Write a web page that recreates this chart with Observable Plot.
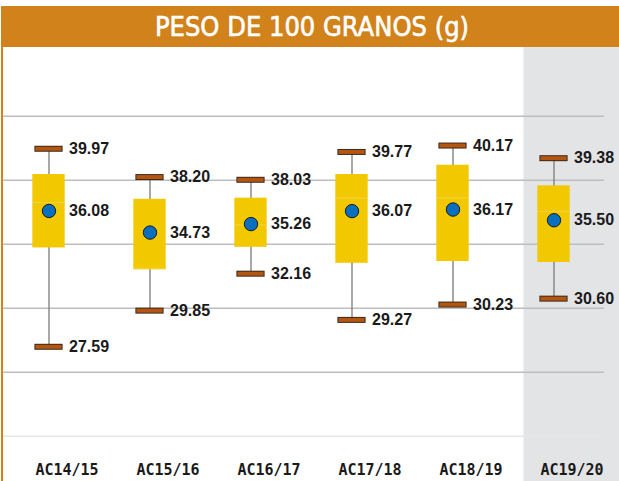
<!DOCTYPE html>
<html>
<head>
<meta charset="utf-8">
<script src="https://cdn.jsdelivr.net/npm/d3@7"></script>
<script src="https://cdn.jsdelivr.net/npm/@observablehq/plot@0.6"></script>
<style>
  body { margin: 0; background: #fff; }
  #wrap { position: relative; width: 619px; height: 481px; overflow: hidden; background: #fff; }
  #hdr { position: absolute; left: 1px; top: 6px; width: 618px; height: 41px; background: #d1821a;
         color: #fff; text-align: center; font-family: "DejaVu Sans Condensed", "DejaVu Sans"; font-stretch: condensed;
         font-weight: normal; font-size: 27px; line-height: 41px; white-space: nowrap; padding-left: 4px; box-sizing: border-box;
         -webkit-text-stroke: 0.6px #fff; }
  #chart { position: absolute; left: 0; top: 47px; }
  #lline { position: absolute; left: 1px; top: 47px; width: 2px; height: 434px; background: #d1821a; }
  #chart g[aria-label="x-axis tick label"] { font-weight: bold; }
</style>
</head>
<body>
<div id="wrap">
  <div id="hdr">PESO DE 100 GRANOS (g)</div>
  <div id="chart"></div>
  <div id="lline"></div>
</div>
<script>
const categories = ["AC14/15", "AC15/16", "AC16/17", "AC17/18", "AC18/19", "AC19/20"];
const maxVals    = [39.97, 38.20, 38.03, 39.77, 40.17, 39.38];
const minVals    = [27.59, 29.85, 32.16, 29.27, 30.23, 30.60];
const meanVals   = [36.08, 34.73, 35.26, 36.07, 36.17, 35.50];
const q3Vals     = [38.36, 36.81, 36.88, 38.36, 38.94, 37.65];
const q1Vals     = [33.77, 32.40, 33.81, 32.81, 32.92, 32.86];
const medVals    = [36.61, 32.50, 35.21, 36.88, 36.88, 36.06];
const gridTicks  = [26, 30, 34, 38, 42];
const yMin = 22, yMax = 46.3;
const highlight = ["AC19/20"];

const rows = categories.map((c, i) => ({
  cat: c, max: maxVals[i], min: minVals[i], mean: meanVals[i],
  q3: q3Vals[i], q1: q1Vals[i], med: medVals[i]
}));
const fmt = d3.format(".2f");
const labelFont = {fontSize: 16, fontWeight: "bold", fontFamily: "Liberation Sans, Arial, sans-serif",
                   fill: "#1a1a1a", textAnchor: "start", dx: 2};

const chart = Plot.plot({
  width: 619, height: 434,
  marginLeft: 3, marginRight: 15, marginTop: 0, marginBottom: 45.3,
  style: {background: "transparent", overflow: "visible"},
  x: {type: "band", domain: categories, range: [13.05, 624.45], padding: 0, axis: null},
  y: {domain: [yMin, yMax], range: [388.7, 0], axis: null},
  marks: [
    Plot.barY(highlight, {x: d => d, y1: yMin, y2: yMax, fill: "#e3e4e6", insetLeft: 2.5, insetBottom: -46}),
    Plot.ruleY(gridTicks, {stroke: "#bdbdbd", strokeWidth: 1.5}),
    Plot.ruleY([yMin], {stroke: "#e6e6e6", strokeWidth: 1.5}),
    Plot.axisX({tickSize: 0, tickPadding: 28, fontSize: 15, fontWeight: "bold", label: null,
                fontFamily: "DejaVu Sans Mono, monospace", color: "#1a1a1a"}),
    Plot.ruleX(rows, {x: "cat", y1: "min", y2: "max", stroke: "#7a7a7a", strokeWidth: 1.3, dx: -18}),
    Plot.barY(rows, {x: "cat", y1: "q1", y2: "q3", fill: "#f2c900", insetLeft: 16.3, insetRight: 52.3}),
    Plot.tickY(rows, {x: "cat", y: "med", stroke: "#f5d650", strokeWidth: 0.8, insetLeft: 16.3, insetRight: 52.3}),
    Plot.tickY(rows, {x: "cat", y: "max", stroke: "#3a2a1c", strokeWidth: 6, insetLeft: 18.4, insetRight: 54.4}),
    Plot.tickY(rows, {x: "cat", y: "max", stroke: "#b4560f", strokeWidth: 4, insetLeft: 19.4, insetRight: 55.4}),
    Plot.tickY(rows, {x: "cat", y: "min", stroke: "#3a2a1c", strokeWidth: 6, insetLeft: 18.4, insetRight: 54.4}),
    Plot.tickY(rows, {x: "cat", y: "min", stroke: "#b4560f", strokeWidth: 4, insetLeft: 19.4, insetRight: 55.4}),
    Plot.dot(rows, {x: "cat", y: "mean", r: 6.7, fill: "#0b6fc0", stroke: "#1a1a1a", strokeWidth: 1, dx: -18}),
    Plot.text(rows, {x: "cat", y: "max", text: d => fmt(d.max), ...labelFont}),
    Plot.text(rows, {x: "cat", y: "min", text: d => fmt(d.min), ...labelFont}),
    Plot.text(rows, {x: "cat", y: "mean", text: d => fmt(d.mean), ...labelFont})
  ]
});
document.getElementById("chart").appendChild(chart);
</script>
</body>
</html>
